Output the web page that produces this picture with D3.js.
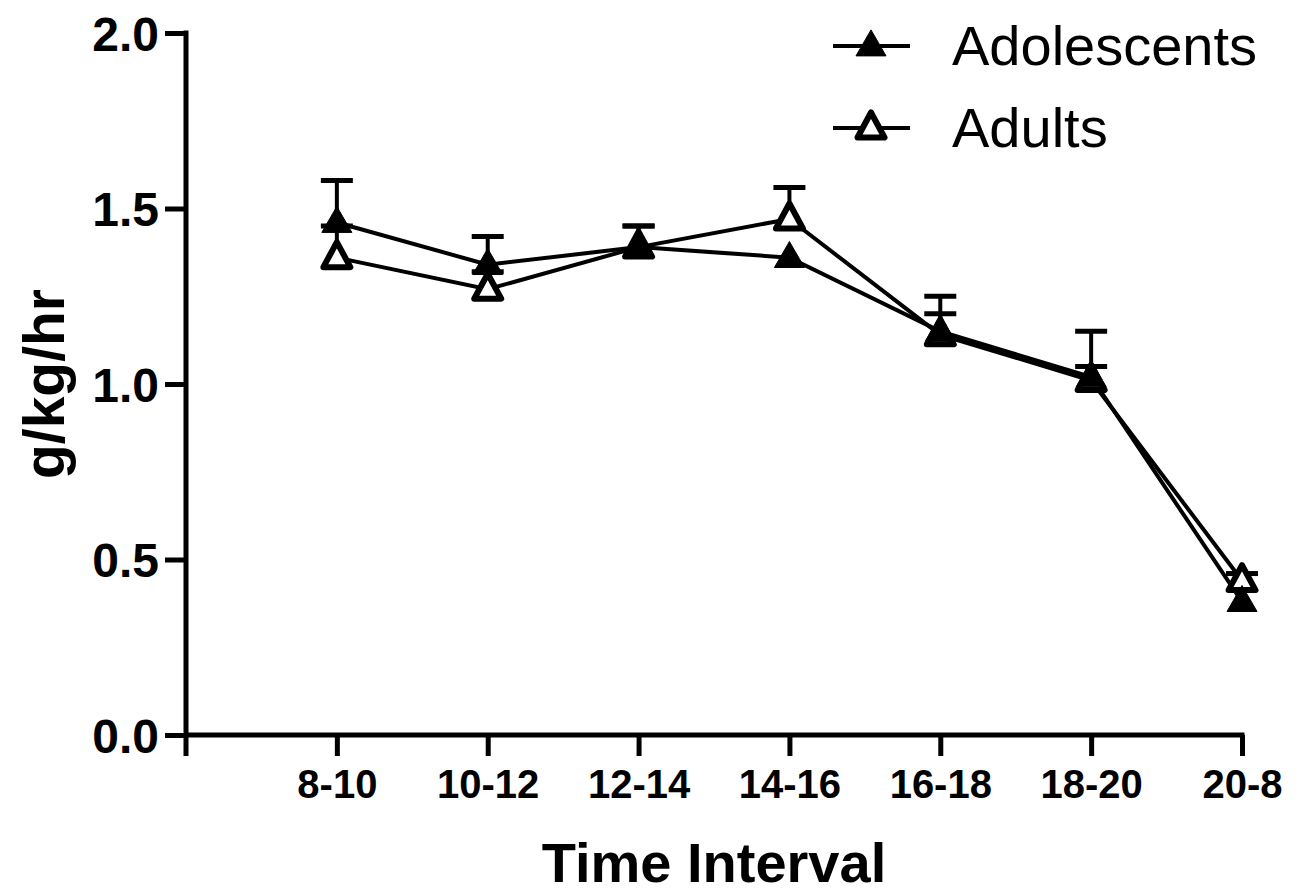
<!DOCTYPE html>
<html>
<head>
<meta charset="utf-8">
<script src="https://cdn.jsdelivr.net/npm/d3@7"></script>
<style>
	body { margin: 0; background: #fff; }
	svg { display: block; }
	text { font-family: "Liberation Sans", Arial, sans-serif; fill: #000; }
</style>
</head>
<body>
<svg id="chart" width="1298" height="896"></svg>
<script>
// data
var intervals = ["8-10", "10-12", "12-14", "14-16", "16-18", "18-20", "20-8"];
var adolescentMean = [1.46, 1.34, 1.39, 1.36, 1.15, 1.02, 0.38];
var adolescentErr = [0.12, 0.08, 0.06, 0.00, 0.10, 0.13, 0.00];
var adultMean = [1.36, 1.27, 1.39, 1.47, 1.14, 1.01, 0.44];
var adultErr = [0.09, 0.05, 0.06, 0.09, 0.06, 0.04, 0.02];
var yTicks = [0.0, 0.5, 1.0, 1.5, 2.0];
var seriesNames = ["Adolescents", "Adults"];

(function() {
	var svg = d3.select("#chart");

	var mLeft = 186, mRight = 1242, mTop = 33, mBottom = 735;
	var tickLen = 21;

	// x: one slot for the origin, then the 7 intervals
	var x = d3.scaleLinear().domain([0, intervals.length]).range([mLeft, mRight]);
	var y = d3.scaleLinear().domain([0, 2]).range([mBottom, mTop]);

	//************ AXES ************

	var yAxis = d3.axisLeft(y)
		.tickValues(yTicks)
		.tickFormat(d3.format(".1f"))
		.tickSizeInner(tickLen)
		.tickSizeOuter(0)
		.tickPadding(6);

	var gy = svg.append("g")
		.attr("class", "y axis")
		.attr("transform", "translate(" + mLeft + ",0)")
		.call(yAxis);
	gy.select(".domain").remove();
	gy.selectAll("line").attr("stroke", "#000").attr("stroke-width", 5);
	gy.selectAll("text")
		.attr("font-family", null)
		.attr("font-size", null)
		.style("font-size", "48px")
		.style("font-weight", "bold")
		.attr("dy", "0.36em");
	gy.append("line")
		.attr("x1", 0).attr("x2", 0)
		.attr("y1", mTop - 2.5).attr("y2", mBottom + tickLen)
		.attr("stroke", "#000").attr("stroke-width", 5);

	var xAxis = d3.axisBottom(x)
		.tickValues(d3.range(1, intervals.length + 1))
		.tickFormat(function(d) { return intervals[d - 1]; })
		.tickSizeInner(tickLen)
		.tickSizeOuter(0)
		.tickPadding(14);

	var gx = svg.append("g")
		.attr("class", "x axis")
		.attr("transform", "translate(0," + mBottom + ")")
		.call(xAxis);
	gx.select(".domain").remove();
	gx.selectAll("line").attr("stroke", "#000").attr("stroke-width", 5);
	gx.selectAll("text")
		.attr("font-family", null)
		.attr("font-size", null)
		.style("font-size", "40px")
		.style("font-weight", "bold");
	gx.append("line")
		.attr("x1", mLeft).attr("x2", mRight + 2.5)
		.attr("y1", 0).attr("y2", 0)
		.attr("stroke", "#000").attr("stroke-width", 5);

	// axis titles
	svg.append("text")
		.attr("x", (mLeft + mRight) / 2)
		.attr("y", 882)
		.attr("text-anchor", "middle")
		.style("font-size", "56px")
		.style("font-weight", "bold")
		.text("Time Interval");

	svg.append("text")
		.attr("transform", "translate(64," + (mTop + mBottom) / 2 + ") rotate(-90)")
		.attr("text-anchor", "middle")
		.style("font-size", "57px")
		.style("font-weight", "bold")
		.text("g/kg/hr");

	//************ SERIES ************

	var tri = function(w, h) {
		return "M0," + (-h * 0.62) + "L" + (w / 2) + "," + (h * 0.38) + "L" + (-w / 2) + "," + (h * 0.38) + "Z";
	};

	var series = [
		{ name: seriesNames[0], mean: adolescentMean, err: adolescentErr, filled: true },
		{ name: seriesNames[1], mean: adultMean, err: adultErr, filled: false }
	];

	var line = d3.line()
		.x(function(d, i) { return x(i + 1); })
		.y(function(d) { return y(d); });

	var plot = svg.append("g").attr("class", "plot");

	// error bars first (upper only), then lines, then markers
	series.slice().reverse().forEach(function(s) {
		var g = plot.append("g");
		s.mean.forEach(function(m, i) {
			if (!s.err[i]) return;
			var cx = x(i + 1), y0 = y(m), y1 = y(m + s.err[i]);
			g.append("line")
				.attr("x1", cx).attr("x2", cx).attr("y1", y0).attr("y2", y1)
				.attr("stroke", "#000").attr("stroke-width", 4);
			g.append("line")
				.attr("x1", cx - 16).attr("x2", cx + 16).attr("y1", y1).attr("y2", y1)
				.attr("stroke", "#000").attr("stroke-width", 5);
		});
	});

	series.forEach(function(s) {
		plot.append("path")
			.datum(s.mean)
			.attr("d", line)
			.attr("fill", "none")
			.attr("stroke", "#000")
			.attr("stroke-width", 4);
	});

	series.slice().reverse().forEach(function(s) {
		plot.append("g").selectAll("path")
			.data(s.mean)
			.join("path")
			.attr("transform", function(d, i) { return "translate(" + x(i + 1) + "," + y(d) + ")"; })
			.attr("d", s.filled ? tri(30, 26) : tri(27, 25))
			.attr("fill", s.filled ? "#000" : "#fff")
			.attr("stroke", "#000")
			.attr("stroke-width", s.filled ? 1 : 6)
			.attr("stroke-linejoin", "round");
	});

	//************ LEGEND ************

	var legend = svg.append("g").attr("class", "legend");
	series.forEach(function(s, i) {
		var ly = 46 + i * 82;
		legend.append("line")
			.attr("x1", 833).attr("x2", 910).attr("y1", ly).attr("y2", ly)
			.attr("stroke", "#000").attr("stroke-width", 4);
		legend.append("path")
			.attr("transform", "translate(871," + ly + ")")
			.attr("d", s.filled ? tri(30, 26) : tri(27, 25))
			.attr("fill", s.filled ? "#000" : "#fff")
			.attr("stroke", "#000")
			.attr("stroke-width", s.filled ? 1 : 6)
			.attr("stroke-linejoin", "round");
		legend.append("text")
			.attr("x", 952)
			.attr("y", ly + 19)
			.style("font-size", "56px")
			.text(s.name);
	});
})();
</script>
</body>
</html>
